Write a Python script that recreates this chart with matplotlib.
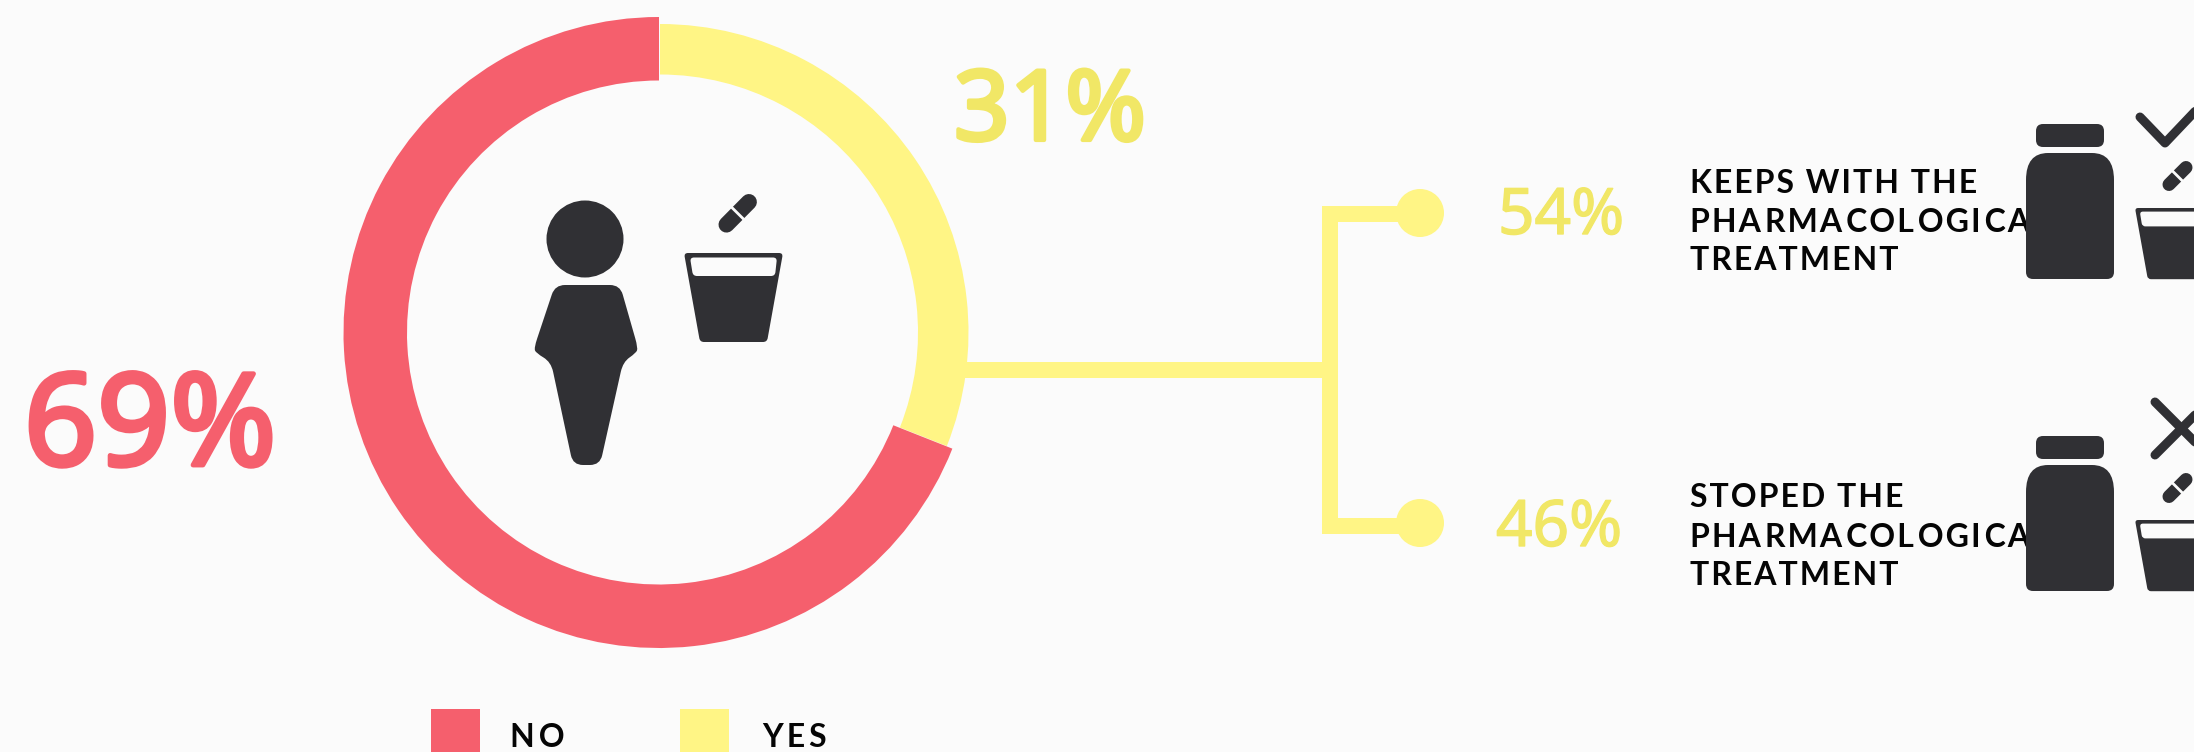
import matplotlib
matplotlib.use('Agg')
import matplotlib.pyplot as plt
import matplotlib.patheffects as pe
from matplotlib.patches import Circle, PathPatch, Rectangle
from matplotlib.path import Path

W, H = 2194, 752

no_pct = 69
yes_pct = 31
keeps_pct = 54
stopped_pct = 46

keeps_lines = ['KEEPS WITH THE', 'PHARMACOLOGICAL', 'TREATMENT']
stopped_lines = ['STOPED THE', 'PHARMACOLOGICAL', 'TREATMENT']
legend_names = ['NO', 'YES']

bg = '#FBFBFB'
red = '#F55F6D'
yellow = '#FFF585'
yellow_text = '#F1E766'
dark = '#303034'
ink = '#050505'
digits_font = ['Noto Sans', 'DejaVu Sans']

plt.rcParams['font.family'] = ['Lato', 'DejaVu Sans']

fig = plt.figure(figsize=(W / 100, H / 100), dpi=100, facecolor=bg)
ax = fig.add_axes([0, 0, 1, 1])


def rounded(points, r):
    # closed polygon whose corners are cut with quadratic curves
    n = len(points)
    verts, codes = [], []
    for i in range(n):
        x0, y0 = points[i - 1]
        x1, y1 = points[i]
        x2, y2 = points[(i + 1) % n]
        d0 = ((x0 - x1) ** 2 + (y0 - y1) ** 2) ** 0.5
        d2 = ((x2 - x1) ** 2 + (y2 - y1) ** 2) ** 0.5
        a = min(r, d0 / 2) / d0
        b = min(r, d2 / 2) / d2
        start = (x1 + (x0 - x1) * a, y1 + (y0 - y1) * a)
        end = (x1 + (x2 - x1) * b, y1 + (y2 - y1) * b)
        verts += [start, (x1, y1), end]
        codes += [Path.MOVETO if i == 0 else Path.LINETO, Path.CURVE3, Path.CURVE3]
    verts.append(verts[0])
    codes.append(Path.CLOSEPOLY)
    return Path(verts, codes)


def blob(points, r, color=dark, z=5):
    ax.add_patch(PathPatch(rounded(points, r), fc=color, ec='none', zorder=z))


def spaced(s, wide_every=0):
    # letter spacing through hair spaces, wide_every doubles some of the gaps
    out = s[0]
    for i, ch in enumerate(s[1:], 1):
        out += '\u200a'
        if wide_every and i % wide_every == 0:
            out += '\u200a'
        out += ch
    return out


def heavy(width, color):
    # only the regular cut of the digit font is installed, so thicken it with a stroke
    return [pe.withStroke(linewidth=width, foreground=color, joinstyle='round')]


def pill(x0, y0, x1, y1, width):
    ax.plot([x0, x1], [y0, y1], color=dark, lw=width * 0.72, solid_capstyle='round', zorder=5)
    mx, my = (x0 + x1) / 2, (y0 + y1) / 2
    dx, dy = x1 - x0, y1 - y0
    ln = (dx ** 2 + dy ** 2) ** 0.5
    nx, ny = -dy / ln * width, dx / ln * width
    ax.plot([mx - nx, mx + nx], [my - ny, my + ny], color=bg, lw=2.0, zorder=6)


def glass(x, y, s):
    # x, y is the top-left corner of the rim
    blob([(x, y), (x + 99 * s, y), (x + 83 * s, y + 89 * s), (x + 16 * s, y + 89 * s)], 4 * s)
    blob([(x + 6 * s, y + 4.5 * s), (x + 93 * s, y + 4.5 * s), (x + 91 * s, y + 23 * s), (x + 9 * s, y + 23 * s)],
         4 * s, color=bg, z=6)


def bottle(dy):
    blob([(2036, 124 + dy), (2104, 124 + dy), (2104, 147 + dy), (2036, 147 + dy)], 7)
    top = 153 + dy
    bot = 279 + dy
    ax.add_patch(PathPatch(Path(
        [(2048, top), (2092, top), (2114, top), (2114, 180 + dy),
         (2114, bot - 7), (2114, bot), (2107, bot),
         (2033, bot), (2026, bot), (2026, bot - 7),
         (2026, 180 + dy), (2026, top), (2048, top), (2048, top)],
        [Path.MOVETO, Path.LINETO, Path.CURVE3, Path.CURVE3,
         Path.LINETO, Path.CURVE3, Path.CURVE3,
         Path.LINETO, Path.CURVE3, Path.CURVE3,
         Path.LINETO, Path.CURVE3, Path.CURVE3, Path.CLOSEPOLY]),
        fc=dark, ec='none', zorder=5))


# connector behind the ring
conn = dict(color=yellow, lw=16 * 0.72, solid_capstyle='butt', solid_joinstyle='miter', zorder=1)
ax.plot([950, 1330], [370, 370], **conn)
ax.plot([1420, 1330, 1330, 1420], [214, 214, 526, 526], **conn)
ax.add_patch(Circle((1420, 213), 24, fc=yellow, ec='none', zorder=1))
ax.add_patch(Circle((1420, 523), 24, fc=yellow, ec='none', zorder=1))

# y runs downward here, so the slices start at -90 going clockwise in data terms
values = [no_pct, yes_pct]
ax.pie(values, colors=['none', yellow], center=(660, 332.5), radius=308.5, startangle=-90,
       counterclock=False, wedgeprops=dict(width=50.5, linewidth=0, zorder=2))
ax.pie(values, colors=[red, 'none'], center=(659, 332.5), radius=315.5, startangle=-90,
       counterclock=False, wedgeprops=dict(width=63.5, linewidth=0, zorder=3))

ax.set_xlim(0, W)
ax.set_ylim(H, 0)
ax.set_aspect('auto')
ax.axis('off')

# big percentages
ax.text(24, 465, f'{no_pct}%', color=red, fontsize=92, family=digits_font, va='baseline', ha='left',
        path_effects=heavy(3.5, red))
ax.text(954, 140, f'{yes_pct}%', color=yellow_text, fontsize=70, family=digits_font, va='baseline', ha='left',
        path_effects=heavy(3, yellow_text))
ax.text(1498, 234, f'{keeps_pct}%', color=yellow_text, fontsize=46, family=digits_font, va='baseline', ha='left',
        path_effects=heavy(1, yellow_text))
ax.text(1496, 546, f'{stopped_pct}%', color=yellow_text, fontsize=46, family=digits_font, va='baseline', ha='left',
        path_effects=heavy(1, yellow_text))

# row captions, the bottle sits on top of the long word
for lines, baselines in [(keeps_lines, [193, 232, 270]), (stopped_lines, [507, 547, 585])]:
    for line, y in zip(lines, baselines):
        wide = 3 if len(line) > 14 else 0
        ax.text(1690, y, spaced(line, wide), color=ink, fontsize=23, fontweight='bold', va='baseline', ha='left', zorder=4)

# centre icons
ax.add_patch(Circle((585, 239), 38.5, fc=dark, ec='none', zorder=5))
blob([(555, 285), (620, 285), (638, 348), (636, 353), (623, 362), (600, 465),
      (573, 465), (551, 362), (536, 353), (534, 348)], 10)
glass(684, 253, 1)
pill(748.9, 202, 726.5, 224.6, 16)

# row icons
for dy in [0, 312]:
    bottle(dy)
    glass(2135, 208 + dy, 0.8)
    pill(2186, 167.5 + dy, 2169, 184.5 + dy, 13)

mark = dict(color=dark, lw=9 * 0.72, solid_capstyle='round', solid_joinstyle='round', zorder=5)
ax.plot([2140, 2165, 2203], [117, 143, 103], **mark)
ax.plot([2155, 2209], [402, 456], **mark)
ax.plot([2155, 2209], [455, 401], **mark)

# legend
ax.add_patch(Rectangle((431, 709), 49, 49, fc=red, ec='none'))
ax.add_patch(Rectangle((680, 709), 49, 49, fc=yellow, ec='none'))
ax.text(510, 747, spaced(legend_names[0], 1), color=ink, fontsize=23, fontweight='bold', va='baseline', ha='left')
ax.text(762, 747, spaced(legend_names[1], 1), color=ink, fontsize=23, fontweight='bold', va='baseline', ha='left')

fig.savefig('out.png', dpi=100, facecolor=bg)
